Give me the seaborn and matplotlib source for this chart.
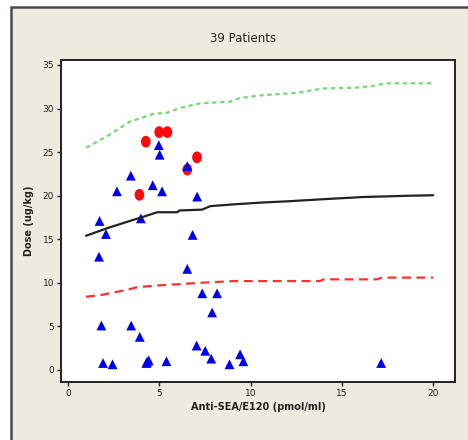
import numpy as np
import pandas as pd
import matplotlib
matplotlib.use("Agg")
import matplotlib.pyplot as plt
from matplotlib.patches import Rectangle
from matplotlib.path import Path
import seaborn as sns

# ---- data ----
red_x = [4.27, 5.00, 5.45, 7.07, 6.54, 3.92]
red_y = [26.2, 27.3, 27.3, 24.4, 23.0, 20.1]

blue_x = [4.98, 5.03, 6.54, 3.45, 4.65, 5.16, 2.69, 7.08, 1.74, 4.00,
          2.09, 6.83, 1.71, 6.54, 7.36, 8.17, 7.90, 1.84, 3.47, 3.94,
          7.05, 7.52, 7.85, 9.43, 9.61, 1.93, 2.45, 4.34, 4.30, 4.43,
          5.40, 8.85, 17.15]
blue_y = [25.8, 24.7, 23.4, 22.3, 21.2, 20.5, 20.5, 19.9, 17.1, 17.4,
          15.6, 15.5, 13.0, 11.6, 8.8, 8.8, 6.6, 5.1, 5.1, 3.8,
          2.8, 2.2, 1.3, 1.8, 1.0, 0.8, 0.65, 0.95, 0.8, 1.1,
          1.0, 0.65, 0.8]

upper_x = [1.0, 2.3, 3.4, 4.7, 5.4, 6.2, 7.25, 8.9, 9.4, 10.5, 12.5, 14.0, 15.8, 16.7, 17.4, 20.0]
upper_y = [25.5, 27.0, 28.5, 29.4, 29.5, 30.1, 30.6, 30.8, 31.2, 31.5, 31.8, 32.3, 32.4, 32.6, 32.9, 32.9]

mid_x = [1.0, 2.2, 3.25, 4.16, 4.9, 6.0, 6.1, 7.35, 7.8, 9.06, 10.5, 12.0, 14.0, 16.2, 18.8, 20.0]
mid_y = [15.4, 16.3, 17.0, 17.6, 18.1, 18.1, 18.3, 18.4, 18.8, 19.0, 19.2, 19.35, 19.6, 19.85, 20.0, 20.05]

lower_x = [1.0, 1.8, 3.25, 3.8, 4.9, 7.25, 9.06, 10.5, 13.8, 14.0, 16.9, 17.2, 20.0]
lower_y = [8.4, 8.6, 9.2, 9.5, 9.7, 10.0, 10.2, 10.2, 10.2, 10.4, 10.4, 10.6, 10.6]

x_ticks = [0, 5, 10, 15, 20]
y_ticks = [0, 5, 10, 15, 20, 25, 30, 35]
title = "39 Patients"
xlabel = "Anti-SEA/E120 (pmol/ml)"
ylabel = "Dose (ug/kg)"

# ---- figure ----
sns.set_theme(style="white")
plt.rcParams['font.family'] = ['DejaVu Sans']

fig = plt.figure(figsize=(4.68, 4.40), dpi=100)
fig.patch.set_facecolor("white")
bg = Rectangle((11 / 468, -0.1), 1.2, 1 - 7 / 440 + 0.1, transform=fig.transFigure,
               facecolor="#EEEAE0", edgecolor="#4a4a4a", linewidth=1.8, zorder=-10)
fig.patches.append(bg)

ax = fig.add_axes([61 / 468, 1 - 382 / 440, (455 - 61) / 468, (382 - 60) / 440])
ax.set_zorder(5)
ax.set_facecolor("white")

circ = Path.unit_circle()
ell = Path(circ.vertices * np.array([0.82, 1.0]), circ.codes)

red_df = pd.DataFrame({"x": red_x, "y": red_y})
blue_df = pd.DataFrame({"x": blue_x, "y": blue_y})

sns.scatterplot(data=red_df, x="x", y="y", ax=ax, marker=ell, s=72,
                color="#FF0A0A", edgecolor="none", linewidth=0, zorder=3)
sns.scatterplot(data=blue_df, x="x", y="y", ax=ax, marker="^", s=50,
                color="#0000F0", edgecolor="none", linewidth=0, zorder=4)

sns.lineplot(x=upper_x, y=upper_y, ax=ax, color="#77D877", linewidth=1.6,
             linestyle=(0, (2.0, 1.6)), zorder=5, estimator=None, sort=False)
sns.lineplot(x=mid_x, y=mid_y, ax=ax, color="#222222", linewidth=1.6,
             linestyle="-", zorder=5, estimator=None, sort=False)
sns.lineplot(x=lower_x, y=lower_y, ax=ax, color="#FF3030", linewidth=1.6,
             linestyle=(0, (4, 2.5)), zorder=5, estimator=None, sort=False)

ax.set_xlim(-0.37, 21.19)
ax.set_ylim(-1.38, 35.57)
ax.set_xticks(x_ticks)
ax.set_yticks(y_ticks)
ax.tick_params(axis="both", which="major", direction="out", length=3, width=1,
               color="#222222", labelsize=6.5, labelcolor="#222222", pad=2,
               bottom=True, left=True)
for s in ax.spines.values():
    s.set_color("#222222")
    s.set_linewidth(1.4)

ax.set_xlabel(xlabel, fontsize=7, fontweight="bold", color="#222222", labelpad=3)
ax.set_ylabel(ylabel, fontsize=7, fontweight="bold", color="#222222", labelpad=6)
fig.text(243 / 468, 1 - 38 / 440, title, ha="center", va="center",
         fontsize=8.5, color="#222222")

fig.savefig("out.png", dpi=100, facecolor=fig.get_facecolor())
